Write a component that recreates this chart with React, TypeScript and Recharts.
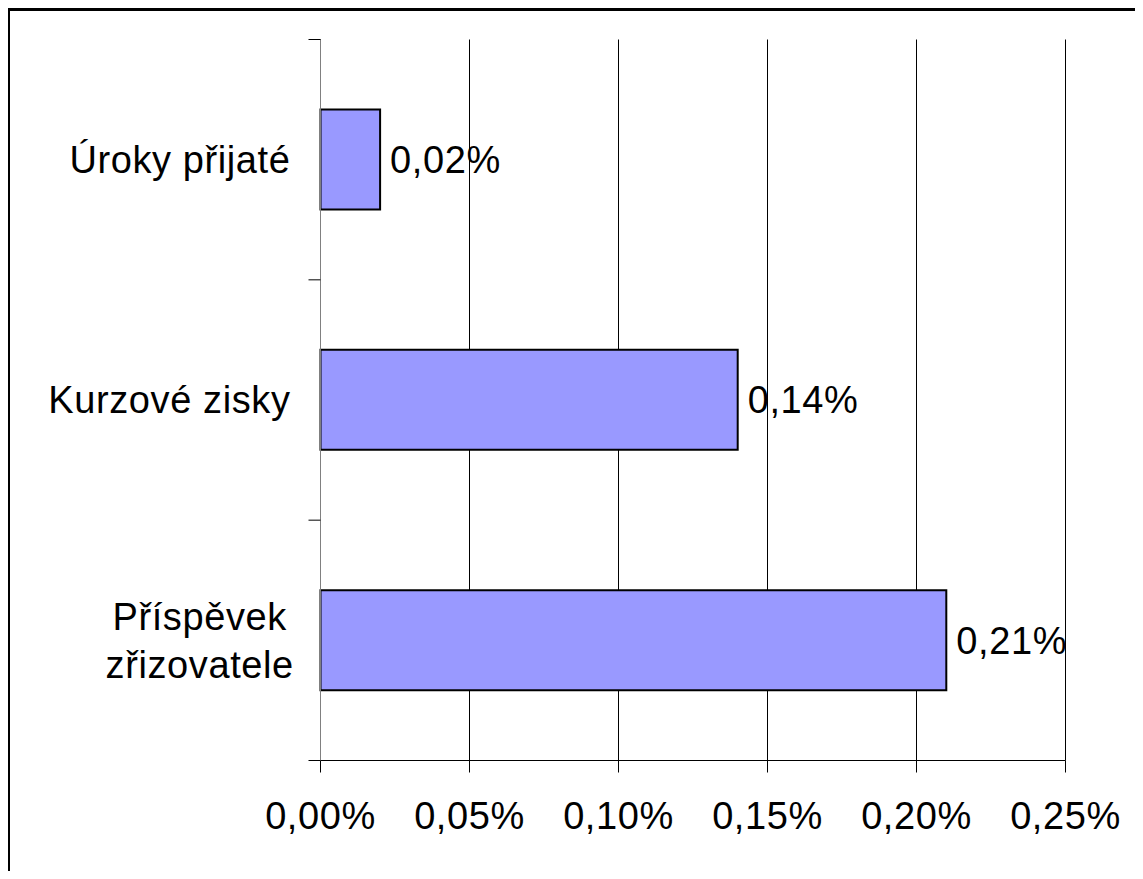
import { BarChart, Bar, XAxis, YAxis, CartesianGrid, LabelList } from 'recharts';

const categories = ['Úroky přijaté', 'Kurzové zisky', 'Příspěvek\nzřizovatele'];
const shares = [0.02, 0.14, 0.21];
const xTicks = [0, 0.05, 0.1, 0.15, 0.2, 0.25];

const data = categories.map((name, i) => ({ name, value: shares[i] }));

const FONT = '"Liberation Sans", Arial, sans-serif';
const FS = 38;
const TICK_SIZE = 12;
const TICK_MARGIN = 18;

const fmtPct = (v: number) => `${v.toFixed(2).replace('.', ',')}%`;

let ctx: CanvasRenderingContext2D | null = null;
const measure = (s: string) => {
  if (!ctx) ctx = document.createElement('canvas').getContext('2d');
  if (!ctx) return s.length * FS * 0.5;
  ctx.font = `${FS}px "Liberation Sans"`;
  return ctx.measureText(s).width;
};

// category label at band centre, tick marks at band edges
const CategoryTick = (props: any) => {
  const { x, y, payload, index } = props;
  const lines = String(payload.value).split('\n');
  const half = payload.offset || 0;
  const lx1 = x + TICK_MARGIN;
  const lx2 = lx1 + TICK_SIZE;
  const lineH = 48;
  const widest = Math.max(...lines.map(measure));
  const multi = lines.length > 1;
  const tx = multi ? x - widest / 2 : x;
  return (
    <g>
      <line x1={lx1} x2={lx2} y1={y - half} y2={y - half} stroke="#000" />
      {index === categories.length - 1 && (
        <line x1={lx1} x2={lx2} y1={y + half} y2={y + half} stroke="#000" />
      )}
      <text
        x={tx}
        y={y - ((lines.length - 1) * lineH) / 2}
        textAnchor={multi ? 'middle' : 'end'}
        fontSize={FS}
        fontFamily={FONT}
        fill="#000"
        letterSpacing={0.6}
      >
        {lines.map((l, i) => (
          <tspan key={i} x={tx} dy={i === 0 ? '0.35em' : lineH}>
            {l}
          </tspan>
        ))}
      </text>
    </g>
  );
};

export default function App() {
  return (
    <div
      style={{
        marginLeft: -1,
        borderTop: '3px solid #000',
        borderLeft: '3px solid #000',
        width: 1130,
        height: 860,
        background: '#fff',
      }}
    >
      <BarChart
        width={1130}
        height={860}
        data={data}
        layout="vertical"
        margin={{ top: 28.5, right: 74.5, left: 0.5, bottom: 30.5 }}
      >
        <CartesianGrid horizontal={false} stroke="#000" />
        <XAxis
          type="number"
          domain={[0, 0.25]}
          ticks={xTicks}
          tickFormatter={fmtPct}
          height={80}
          tickSize={TICK_SIZE}
          tickMargin={30}
          stroke="#000"
          tick={{ fill: '#000', fontSize: FS, fontFamily: FONT, letterSpacing: 0.6 }}
        />
        <YAxis
          type="category"
          dataKey="name"
          width={310}
          tickLine={false}
          tickSize={TICK_SIZE}
          tickMargin={TICK_MARGIN}
          stroke="#808080"
          tick={<CategoryTick />}
          interval={0}
        />
        <Bar dataKey="value" fill="#9999FF" stroke="#000" strokeWidth={2} barSize={100} isAnimationActive={false}>
          <LabelList
            dataKey="value"
            position="right"
            offset={10}
            formatter={(v: any) => fmtPct(Number(v))}
            fill="#000"
            fontSize={FS}
            fontFamily={FONT}
            letterSpacing={0.6}
          />
        </Bar>
      </BarChart>
    </div>
  );
}
